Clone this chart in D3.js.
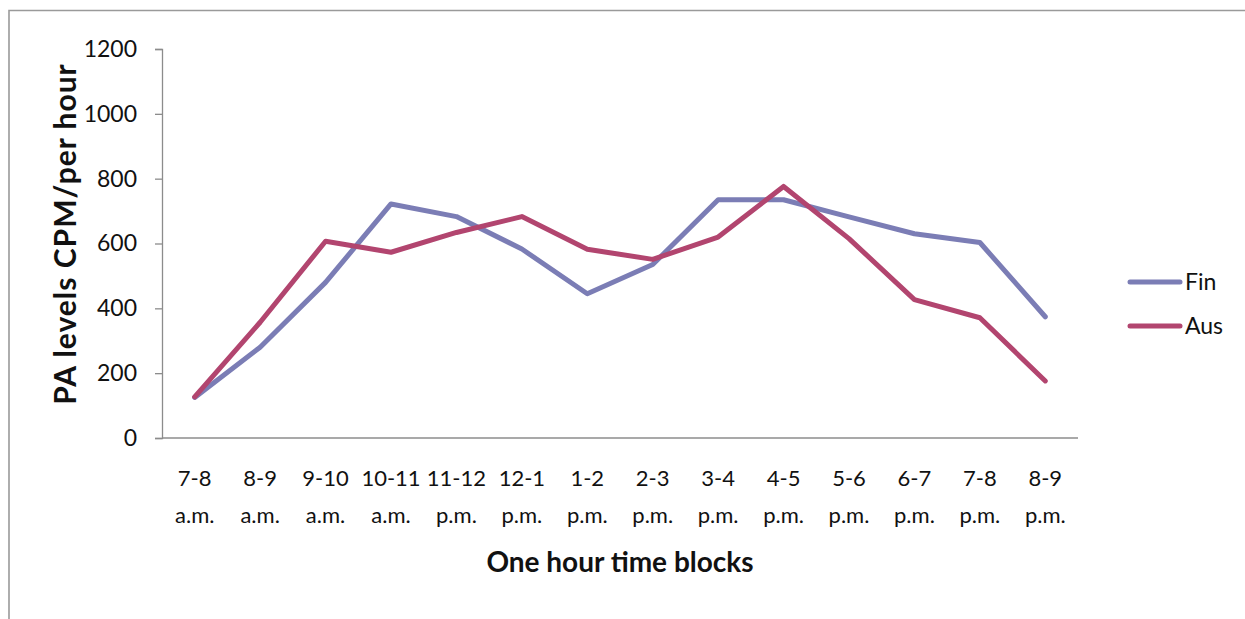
<!DOCTYPE html>
<html lang="en">
  <head>
    <meta charset="utf-8" />
    <title>PA levels</title>
    <script src="https://d3js.org/d3.v7.min.js"></script>
    <style type="text/css">
      body { margin: 0; background: #fff; }
      text { font-family: Lato, 'Open Sans', sans-serif; fill: #111; }
    </style>
  </head>
  <body>
    <script type="text/javascript">
      // data
      const hours = ['7-8', '8-9', '9-10', '10-11', '11-12', '12-1', '1-2', '2-3', '3-4', '4-5', '5-6', '6-7', '7-8', '8-9'];
      const periods = ['a.m.', 'a.m.', 'a.m.', 'a.m.', 'p.m.', 'p.m.', 'p.m.', 'p.m.', 'p.m.', 'p.m.', 'p.m.', 'p.m.', 'p.m.', 'p.m.'];
      const fin = [125, 280, 480, 722, 683, 583, 445, 535, 735, 735, 682, 630, 603, 374];
      const aus = [127, 357, 607, 573, 634, 683, 582, 551, 620, 776, 615, 427, 371, 176];
      const yTicks = [0, 200, 400, 600, 800, 1000, 1200];

      const w = 1245;
      const h = 619;
      const plotLeft = 162;
      const plotRight = 1078;
      const plotTop = 49;
      const plotBottom = 438;

      const svg = d3
        .select('body')
        .append('svg')
        .attr('width', w)
        .attr('height', h);

      // outer frame (top and left only visible)
      svg.append('path')
        .attr('d', `M9,${h} V10.5 H${w}`)
        .attr('fill', 'none')
        .attr('stroke', '#9a9a9a')
        .attr('stroke-width', 1.6);

      const xScale = d3
        .scaleBand()
        .domain(d3.range(hours.length))
        .range([plotLeft, plotRight]);

      const yScale = d3
        .scaleLinear()
        .domain([0, 1200])
        .range([plotBottom, plotTop]);

      // y axis
      const yAxis = d3.axisLeft(yScale)
        .tickValues(yTicks)
        .tickFormat(d3.format('d'))
        .tickSize(7)
        .tickPadding(18);
      const gy = svg.append('g')
        .attr('transform', `translate(${plotLeft},0)`)
        .call(yAxis);
      gy.select('.domain').attr('stroke', '#8c8c8c').attr('stroke-width', 1.3);
      gy.selectAll('.tick line').attr('stroke', '#8c8c8c').attr('stroke-width', 1.3);
      gy.selectAll('text')
        .style('font-size', '23px')
        .attr('fill', '#111');

      // x axis line
      svg.append('line')
        .attr('x1', plotLeft)
        .attr('x2', plotRight)
        .attr('y1', plotBottom)
        .attr('y2', plotBottom)
        .attr('stroke', '#8c8c8c')
        .attr('stroke-width', 1.3);

      // x tick labels in two lines
      const xLabels = svg.append('g')
        .selectAll('text')
        .data(hours)
        .enter()
        .append('text')
        .attr('x', (d, i) => xScale(i) + xScale.bandwidth() / 2)
        .attr('y', 486)
        .style('text-anchor', 'middle')
        .style('font-size', '22px');
      xLabels.append('tspan').text(d => d);
      xLabels.append('tspan')
        .attr('x', (d, i) => xScale(i) + xScale.bandwidth() / 2)
        .attr('dy', 37)
        .text((d, i) => periods[i]);

      // lines
      const line = d3
        .line()
        .x((d, i) => xScale(i) + xScale.bandwidth() / 2)
        .y(d => yScale(d));

      const series = [
        { name: 'Fin', values: fin, colour: '#7b7db5' },
        { name: 'Aus', values: aus, colour: '#b2456f' }
      ];

      svg.selectAll('.series')
        .data(series)
        .enter()
        .append('path')
        .attr('class', 'series')
        .attr('d', d => line(d.values))
        .attr('fill', 'none')
        .attr('stroke', d => d.colour)
        .attr('stroke-width', 5)
        .attr('stroke-linejoin', 'round')
        .attr('stroke-linecap', 'round');

      // legend
      const legend = svg.selectAll('.legend')
        .data(series)
        .enter()
        .append('g')
        .attr('class', 'legend')
        .attr('transform', (d, i) => `translate(1130, ${282 + i * 44})`);
      legend.append('line')
        .attr('x1', 0)
        .attr('x2', 50)
        .attr('stroke', d => d.colour)
        .attr('stroke-width', 5)
        .attr('stroke-linecap', 'round');
      legend.append('text')
        .attr('x', 55)
        .attr('dy', '0.36em')
        .style('font-size', '23px')
        .text(d => d.name);

      // axis titles
      svg.append('text')
        .attr('transform', 'rotate(-90)')
        .attr('x', -234)
        .attr('y', 76)
        .style('text-anchor', 'middle')
        .style('font-size', '30px')
        .style('letter-spacing', '1px')
        .style('font-weight', 'bold')
        .text('PA levels CPM/per hour');

      svg.append('text')
        .attr('x', 620)
        .attr('y', 572)
        .style('text-anchor', 'middle')
        .style('font-size', '28px')
        .style('font-weight', 'bold')
        .text('One hour time blocks');
    </script>
  </body>
</html>
